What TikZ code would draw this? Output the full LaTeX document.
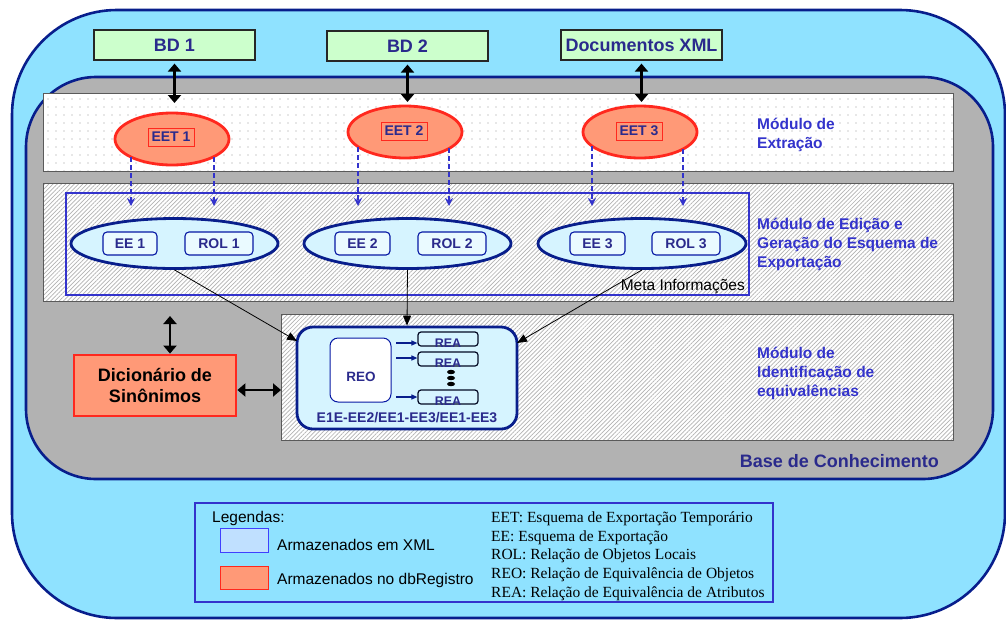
\documentclass[tikz,border=0pt]{standalone}
\usepackage{fontspec}
\setmainfont{Liberation Sans}
\newfontfamily\legserif{Liberation Serif}
\usetikzlibrary{arrows.meta,patterns.meta,shapes.geometric}
\definecolor{outerfill}{RGB}{143,226,255}
\definecolor{navy}{RGB}{8,30,140}
\definecolor{graybg}{RGB}{178,178,178}
\definecolor{bdgreen}{RGB}{204,255,204}
\definecolor{txtblue}{RGB}{42,42,140}
\definecolor{modblue}{RGB}{51,51,204}
\definecolor{salmon}{RGB}{255,153,119}
\definecolor{redb}{RGB}{255,40,30}
\definecolor{lightcyan}{RGB}{214,244,255}
\definecolor{legblue}{RGB}{192,224,255}
\definecolor{bandline}{RGB}{90,90,90}
\begin{document}
\begin{tikzpicture}[x=1pt,y=-1pt,
  bdbox/.style={draw=black!85, line width=1.2, fill=bdgreen, minimum width=161, minimum height=30, inner sep=0,
    font=\fontsize{18}{20}\selectfont\bfseries, text=txtblue},
  eet/.style={ellipse, draw=redb, line width=2.8, fill=salmon, minimum width=114, minimum height=52, inner sep=0},
  eetlbl/.style={draw=redb, line width=0.8, minimum width=46, minimum height=18, inner sep=0,
    font=\fontsize{14}{16}\selectfont\bfseries, text=txtblue},
  eeell/.style={ellipse, draw=navy, line width=2.8, fill=lightcyan, minimum width=207, minimum height=50, inner sep=0},
  eebox/.style={draw=navy!80!blue, line width=1.1, fill=lightcyan!50!white, rounded corners=4, minimum height=23, inner sep=0,
    font=\fontsize{14}{16}\selectfont\bfseries, text=txtblue},
  dashar/.style={draw=modblue, line width=1.6, dash pattern=on 5pt off 3pt, -{Stealth[length=8,width=8]}},
  dbl/.style={draw=black, line width=2.8, {Triangle[length=8,width=13]}-{Triangle[length=8,width=13]}},
  thinar/.style={draw=black, line width=0.8, -{Triangle[length=10,width=8]}},
  smallar/.style={draw=navy, line width=1.1, -{Triangle[length=6,width=5]}},
  dotband/.style={draw=bandline, line width=1, preaction={fill=white}, pattern={Dots[distance=8pt,radius=0.55pt]}, pattern color=gray!80},
  hatchband/.style={draw=bandline, line width=1, preaction={fill=white}, pattern={Lines[angle=45,distance=3pt,line width=0.7pt]}, pattern color=gray!60},
  modlbl/.style={anchor=base west, inner sep=0, font=\fontsize{15.5}{19}\selectfont\bfseries, text=modblue},
  reabox/.style={draw=black!75!navy, line width=1.2, fill=lightcyan, rounded corners=3, minimum width=60, minimum height=14, inner sep=0},
  realbl/.style={anchor=base, inner sep=0, font=\fontsize{12.5}{14}\selectfont\bfseries, text=txtblue},
  legtxt/.style={anchor=base west, inner sep=0, font=\fontsize{15.5}{18}\selectfont}
]
\useasboundingbox (0,0) rectangle (1006,619);
\clip (0,0) rectangle (1006,619);

% outer and inner rounded areas
\draw[navy, line width=2.6, fill=outerfill, rounded corners=105] (12,10) rectangle (1005,618);
\draw[navy, line width=2.6, fill=graybg, rounded corners=70] (26,77) rectangle (993,479);

% module bands
\draw[dotband] (43,93) rectangle (953,171);
\draw[hatchband] (43,183) rectangle (953,301);
\draw[hatchband] (281,314) rectangle (953,440);

% module labels
\node[modlbl] (mext) at (757,129) {\begin{tabular}[t]{@{}l@{}}Módulo de\\Extração\end{tabular}};
\node[modlbl] (medi) at (757,229) {\begin{tabular}[t]{@{}l@{}}Módulo de Edição e\\Geração do Esquema de\\Exportação\end{tabular}};
\node[modlbl] (mide) at (757,358) {\begin{tabular}[t]{@{}l@{}}Módulo de\\Identificação de\\equivalências\end{tabular}};
\node[anchor=base east, inner sep=0, font=\fontsize{18}{20}\selectfont\bfseries, text=txtblue] (base) at (939,467) {Base de Conhecimento};

% sources
\node[bdbox] (bd1) at (174.5,45) {BD 1};
\node[bdbox] (bd2) at (407.5,46) {BD 2};
\node[bdbox] (doc) at (641.5,45) {Documentos XML};

% EET ellipses
\node[eet] (eet1) at (172,139) {};
\node[eet] (eet2) at (405,132) {};
\node[eet] (eet3) at (640,132) {};
\node[eetlbl] (eet1l) at (171,137) {EET 1};
\node[eetlbl] (eet2l) at (404,131) {EET 2};
\node[eetlbl] (eet3l) at (639,131) {EET 3};

\coordinate (x1) at (174.5,103);
\coordinate (x2) at (407.5,102);
\coordinate (x3) at (641.5,102);
\draw[dbl] (bd1.south) ++(0,3) coordinate (b1s) (b1s) -- (x1);
\draw[dbl] (bd2.south) ++(0,3) coordinate (b2s) (b2s) -- (x2);
\draw[dbl] (doc.south) ++(0,3) coordinate (b3s) (b3s) -- (x3);

% meta box
\node[draw=modblue, line width=2.8, minimum width=683, minimum height=102, inner sep=0] (meta) at (407.5,244) {};
\node[anchor=base east, inner sep=0, font=\fontsize{15.5}{18}\selectfont] (metal) at (745,290) {Meta Informações};

% EE ellipses
\node[eeell] (e1) at (174.5,243.5) {};
\node[eeell] (e2) at (407.5,243.5) {};
\node[eeell, minimum width=208] (e3) at (642,243.5) {};
\node[eebox, minimum width=54] (ee1) at (130,243.5) {EE 1};
\node[eebox, minimum width=68] (rol1) at (219,243.5) {ROL 1};
\node[eebox, minimum width=55] (ee2) at (362.5,243.5) {EE 2};
\node[eebox, minimum width=68] (rol2) at (452,243.5) {ROL 2};
\node[eebox, minimum width=55] (ee3) at (597.5,243.5) {EE 3};
\node[eebox, minimum width=68] (rol3) at (686,243.5) {ROL 3};

% dashed arrows
\coordinate (s1a) at (131,157); \coordinate (t1a) at (131,206);
\coordinate (s1b) at (214,157); \coordinate (t1b) at (214,206);
\coordinate (s2a) at (358,147); \coordinate (t2a) at (358,206);
\coordinate (s2b) at (449,148); \coordinate (t2b) at (449,206);
\coordinate (s3a) at (592,146); \coordinate (t3a) at (592,206);
\coordinate (s3b) at (683,149); \coordinate (t3b) at (683,206);
\draw[dashar] (s1a) -- (t1a);
\draw[dashar] (s1b) -- (t1b);
\draw[dashar] (s2a) -- (t2a);
\draw[dashar] (s2b) -- (t2b);
\draw[dashar] (s3a) -- (t3a);
\draw[dashar] (s3b) -- (t3b);

% REO block
\node[draw=navy, line width=2.8, fill=lightcyan, rounded corners=16, minimum width=220, minimum height=102, inner sep=0] (reo) at (407,378) {};
\node[draw=navy!80!blue, line width=1, fill=white, rounded corners=8, minimum width=61, minimum height=64, inner sep=0] (reoin) at (360.5,370) {};
\node[inner sep=0, font=\fontsize{13.5}{15}\selectfont\bfseries, text=txtblue] (reot) at (361,376.5) {REO};
\node[reabox] (rea1) at (448,339) {};
\node[reabox] (rea2) at (448,359) {};
\node[reabox] (rea3) at (448,397) {};
\node[realbl] (rea1t) at (448,347.5) {REA};
\node[realbl] (rea2t) at (448,367.5) {REA};
\node[realbl] (rea3t) at (448,405.5) {REA};
\coordinate (r1) at (396,343); \coordinate (r2) at (396,358); \coordinate (r3) at (396,397);
\draw[smallar] (r1) -- (r1 -| rea1.west);
\draw[smallar] (r2) -- (r2 -| rea2.west);
\draw[smallar] (r3) -- (r3 -| rea3.west);
\fill[black] (451,372) ellipse [x radius=4, y radius=2.2];
\fill[black] (451,378) ellipse [x radius=4, y radius=2.2];
\fill[black] (451,384) ellipse [x radius=4, y radius=2.2];
\node[anchor=base, inner sep=0, font=\fontsize{14}{16}\selectfont\bfseries, text=txtblue] (reol) at (407,422.5) {E1E-EE2/EE1-EE3/EE1-EE3};

% connectors to REO
\coordinate (reoA) at (297,341);
\coordinate (reoC) at (517,343);
\draw[thinar] (e1.south) -- (reoA);
\draw[thinar] (e2.south) -- (reo.north);
\draw[thinar] (e3.south) -- (reoC);

% dictionary
\node[draw=redb, line width=2.8, fill=salmon, minimum width=162, minimum height=61, inner sep=0, align=center,
  font=\fontsize{18}{21.5}\selectfont\bfseries, text=black] (dic) at (155,385.5) {Dicionário de\\Sinônimos};
\coordinate (dv) at (170,316);
\coordinate (dh) at (281,390);
\draw[dbl] (dv) -- (dv |- dic.north);
\draw[dbl] (dh -| dic.east) -- (dh);

% legend
\node[draw=modblue, line width=2.8, minimum width=578, minimum height=99, inner sep=0] (leg) at (484,552.5) {};
\node[legtxt] (legt) at (212,522) {Legendas:};
\node[draw=blue!75, line width=1, fill=legblue, minimum width=48, minimum height=24, inner sep=0] (sw1) at (244,540) {};
\node[draw=redb, line width=1, fill=salmon, minimum width=48, minimum height=23, inner sep=0] (sw2) at (244,577.5) {};
\node[legtxt] (sw1t) at (277,550) {Armazenados em XML};
\node[legtxt] (sw2t) at (277,584) {Armazenados no dbRegistro};
\node[anchor=base west, inner sep=0, font=\legserif\fontsize{15.5}{18.7}\selectfont] (abbr) at (491,522.5)
  {\begin{tabular}[t]{@{}l@{}}EET: Esquema de Exportação Temporário\\EE: Esquema de Exportação\\ROL: Relação de Objetos Locais\\REO: Relação de Equivalência de Objetos\\REA: Relação de Equivalência de Atributos\end{tabular}};
\end{tikzpicture}
\end{document}
